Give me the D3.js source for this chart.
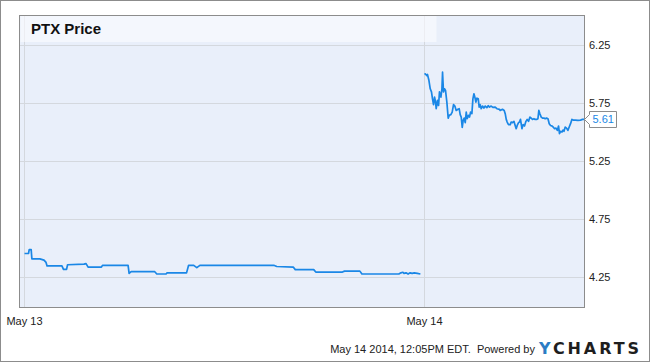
<!DOCTYPE html>
<meta charset="utf-8">
<style>
body { margin: 0; background: #fff; }
text { font-family: "Liberation Sans", Arial, sans-serif; }
.tick { font-size: 11px; fill: #222; }
.grid { stroke: #d4d8de; stroke-width: 1; shape-rendering: crispEdges; }
</style>
<svg width="650" height="362"></svg>
<script src="https://d3js.org/d3.v7.min.js"></script>
<script>

// price data, minutes after the 9:30 open of each session
var day1Minutes = [0, 3.9, 4.6, 6.5, 7.2, 15, 19, 21, 22, 36.5, 38, 41, 42, 58, 60, 62, 75, 76, 101, 102, 104, 127, 129, 138, 139, 158, 160, 165, 168, 171, 243, 246, 262, 264, 282, 284, 310, 312, 327, 329, 365, 367, 369, 370, 372, 374, 376, 378, 380, 383, 386];
var day1Prices = [4.457, 4.457, 4.49, 4.49, 4.41, 4.41, 4.40, 4.38, 4.35, 4.35, 4.32, 4.32, 4.36, 4.365, 4.37, 4.34, 4.34, 4.355, 4.355, 4.285, 4.30, 4.30, 4.28, 4.28, 4.29, 4.29, 4.355, 4.355, 4.335, 4.355, 4.355, 4.345, 4.34, 4.318, 4.318, 4.297, 4.297, 4.305, 4.305, 4.28, 4.28, 4.29, 4.295, 4.285, 4.29, 4.28, 4.29, 4.285, 4.29, 4.285, 4.28];

var day2Minutes = [0, 0.7, 2.3, 2.9, 4.3, 5.6, 6.8, 7.8, 8.8, 9.8, 10.7, 11.4, 12.7, 13.7, 14.6, 16, 17, 17.6, 18.5, 19.5, 20.5, 21.8, 23.1, 24.1, 25.7, 27, 28.3, 29.6, 30.9, 32.6, 33.8, 34.8, 35.8, 36.8, 37.7, 38.7, 39.7, 40.7, 41.6, 42.9, 43.9, 44.9, 46.2, 47.2, 48.2, 49.1, 50.1, 51.1, 52.4, 53.3, 54.3, 55.3, 56.6, 57.9, 59.2, 60.8, 62.1, 63.4, 65, 66.7, 68.9, 70.6, 73.1, 73.8, 76, 77.7, 78.7, 79.7, 80.6, 81.9, 83.6, 84.5, 85.8, 87.2, 88.4, 89.4, 90.4, 91.7, 92.6, 93.6, 95, 96.2, 97.5, 98.9, 100.1, 101.4, 102.8, 104, 105.3, 106.7, 107.9, 109.6, 110.6, 111.5, 112.5, 113.8, 115.1, 116.5, 117.7, 119, 120.4, 121.6, 122.9, 124.3, 125.5, 126.8, 128.2, 129.5, 130.7, 131.6, 132.6, 134, 135, 136, 137.2, 138.5, 139.8, 141.1, 142.4, 143.7, 145, 147, 149.6, 152.1, 154.1, 156];
var day2Prices = [6.00, 6.006, 5.99, 6.00, 5.95, 5.877, 5.85, 5.79, 5.74, 5.805, 5.768, 5.705, 5.777, 5.733, 5.85, 5.805, 5.877, 6.02, 5.85, 5.877, 5.863, 5.762, 5.624, 5.648, 5.654, 5.676, 5.74, 5.728, 5.69, 5.70, 5.705, 5.654, 5.633, 5.544, 5.605, 5.624, 5.585, 5.676, 5.619, 5.648, 5.633, 5.676, 5.662, 5.79, 5.834, 5.805, 5.762, 5.796, 5.79, 5.719, 5.74, 5.705, 5.728, 5.71, 5.728, 5.714, 5.731, 5.719, 5.728, 5.716, 5.719, 5.705, 5.70, 5.69, 5.70, 5.69, 5.662, 5.613, 5.59, 5.568, 5.568, 5.59, 5.585, 5.596, 5.561, 5.533, 5.561, 5.585, 5.59, 5.613, 5.533, 5.568, 5.556, 5.596, 5.613, 5.596, 5.633, 5.624, 5.613, 5.619, 5.613, 5.613, 5.619, 5.69, 5.662, 5.633, 5.624, 5.624, 5.619, 5.624, 5.619, 5.576, 5.561, 5.556, 5.547, 5.533, 5.538, 5.518, 5.556, 5.49, 5.51, 5.504, 5.521, 5.51, 5.547, 5.538, 5.518, 5.547, 5.576, 5.613, 5.607, 5.607, 5.605, 5.607, 5.613, 5.613];

var dayLabels = ["May 13", "May 14"];
var yTicks = [4.25, 4.75, 5.25, 5.75, 6.25];
var sessionLength = 390; // 9:30 to 16:00

var title = "PTX Price",
    footer = "May 14 2014, 12:05PM EDT.  Powered by";

var svg = d3.select("svg"),
    width = +svg.attr("width"),
    height = +svg.attr("height");

var plot = { left: 19.5, top: 15.5, right: 584.5, bottom: 307.5 };

var x = d3.scaleLinear().domain([0, sessionLength]).range([24.5, 424.5]),
    y = d3.scaleLinear().domain([4.25, 6.25]).range([277.5, 45.5]);

// one array of points per session, so the overnight gap stays open
var sessions = [
  day1Minutes.map(function(m, i) { return { t: m, v: day1Prices[i] }; }),
  day2Minutes.map(function(m, i) { return { t: m + sessionLength, v: day2Prices[i] }; })
];

// outer frame
svg.append("rect")
    .attr("x", 0.5).attr("y", 0.5)
    .attr("width", width - 1).attr("height", height - 1)
    .attr("fill", "#fff").attr("stroke", "#8c8c8c");

svg.append("rect")
    .attr("x", plot.left).attr("y", plot.top)
    .attr("width", plot.right - plot.left).attr("height", plot.bottom - plot.top)
    .attr("fill", "#e9effa");

// grid
svg.append("g").selectAll("line")
    .data(yTicks)
  .enter().append("line")
    .attr("class", "grid")
    .attr("x1", plot.left).attr("x2", plot.right)
    .attr("y1", function(d) { return y(d); })
    .attr("y2", function(d) { return y(d); });

svg.append("g").selectAll("line")
    .data(dayLabels)
  .enter().append("line")
    .attr("class", "grid")
    .attr("x1", function(d, i) { return x(i * sessionLength); })
    .attr("x2", function(d, i) { return x(i * sessionLength); })
    .attr("y1", plot.top).attr("y2", plot.bottom);

// title band
svg.append("rect")
    .attr("x", plot.left + 1).attr("y", plot.top + 0.5)
    .attr("width", 416).attr("height", 26)
    .attr("fill", "#fbfcff").attr("fill-opacity", 0.6);

svg.append("text")
    .attr("x", 31).attr("y", 34)
    .style("font-weight", "bold").style("font-size", "15px")
    .attr("fill", "#111")
    .text(title);

// price line
var line = d3.line()
    .x(function(d) { return x(d.t); })
    .y(function(d) { return y(d.v); });

svg.append("g").selectAll("path")
    .data(sessions)
  .enter().append("path")
    .attr("fill", "none")
    .attr("stroke", "#1a87e6")
    .attr("stroke-width", 1.7)
    .attr("stroke-linejoin", "round")
    .attr("d", line);

svg.append("rect")
    .attr("x", plot.left).attr("y", plot.top)
    .attr("width", plot.right - plot.left).attr("height", plot.bottom - plot.top)
    .attr("fill", "none").attr("stroke", "#8c8c8c")
    .attr("shape-rendering", "crispEdges");

// axes
svg.append("g").selectAll("text")
    .data(yTicks)
  .enter().append("text")
    .attr("class", "tick")
    .attr("x", 589)
    .attr("y", function(d) { return y(d); })
    .attr("dy", "0.35em")
    .text(function(d) { return d.toFixed(2); });

svg.append("g").selectAll("text")
    .data(dayLabels)
  .enter().append("text")
    .attr("class", "tick")
    .attr("x", function(d, i) { return x(i * sessionLength); })
    .attr("y", 325)
    .attr("text-anchor", "middle")
    .text(function(d) { return d; });

// last price flag
var lastSession = sessions[sessions.length - 1],
    last = lastSession[lastSession.length - 1],
    ly = Math.round(y(last.v)) + 0.5,
    fx = plot.right;

svg.append("path")
    .attr("d", "M" + fx + "," + ly + "L" + (fx + 5) + "," + (ly - 5) + "V" + (ly - 8) +
      "H" + (fx + 32) + "V" + (ly + 8) + "H" + (fx + 5) + "V" + (ly + 5) + "Z")
    .attr("fill", "#fff").attr("stroke", "#8c8c8c");

svg.append("text")
    .attr("x", fx + 8).attr("y", ly).attr("dy", "0.35em")
    .style("font-size", "11px")
    .attr("fill", "#1a87e6")
    .text(last.v.toFixed(2));

// footer
svg.append("text")
    .attr("x", 535).attr("y", 353)
    .attr("text-anchor", "end")
    .style("font-size", "11px")
    .style("white-space", "pre")
    .attr("fill", "#222")
    .text(footer);

var logo = svg.append("text")
    .attr("x", 539).attr("y", 353.5)
    .attr("textLength", 100).attr("lengthAdjust", "spacing")
    .style("font-family", "'DejaVu Sans', sans-serif")
    .style("font-size", "16px").style("font-weight", "bold");
logo.append("tspan").attr("fill", "#2b7cc4").text("Y");
logo.append("tspan").attr("fill", "#1e1e1e").text("CHARTS");

</script>
